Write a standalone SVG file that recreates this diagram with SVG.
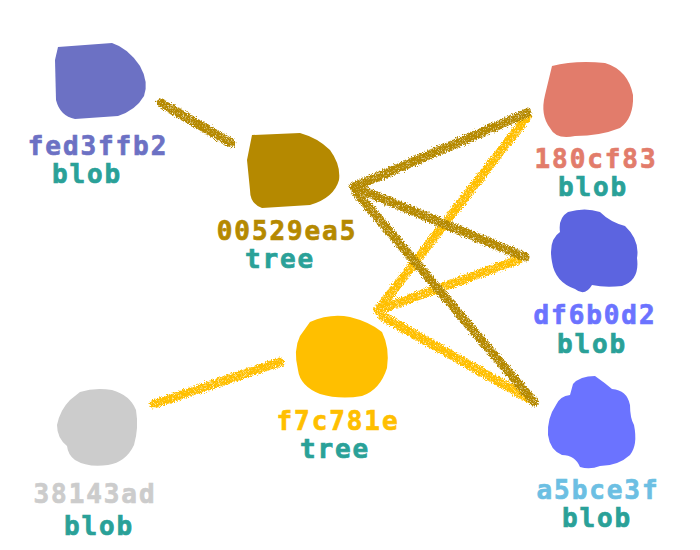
<svg xmlns="http://www.w3.org/2000/svg" width="700" height="550" viewBox="0 0 700 550">
<defs>
<filter id="crayon" x="-10%" y="-10%" width="120%" height="120%">
<feTurbulence type="fractalNoise" baseFrequency="0.9" numOctaves="2" seed="3" result="n"/>
<feDisplacementMap in="SourceGraphic" in2="n" scale="6" xChannelSelector="R" yChannelSelector="G" result="d"/>
<feTurbulence type="fractalNoise" baseFrequency="1.6" numOctaves="1" seed="7" result="g"/>
<feColorMatrix in="g" type="matrix" values="0 0 0 0 0  0 0 0 0 0  0 0 0 0 0  0 0 0 -3 2.6" result="m"/>
<feComposite in="d" in2="m" operator="in"/>
</filter>
<style>
text{font-family:"DejaVu Sans Mono","Liberation Mono",monospace;font-weight:700;font-size:26px;letter-spacing:1.9px;text-anchor:middle;stroke-width:0.7}
.kind{fill:#2aa198;stroke:#2aa198}
.e{fill:none;stroke-width:9;stroke-linecap:round;stroke-linejoin:round}
.g{stroke:#b58900}
.y{stroke:#ffbf00}
</style>
</defs>
<rect width="700" height="550" fill="#ffffff"/>
<g id="connectors" filter="url(#crayon)">
<line class="e g" x1="161" y1="103" x2="231" y2="143"/>
<polyline class="e y" points="527,117 378,310 518,260"/>
<polyline class="e y" points="382,316 528,398"/>
<line class="e y" x1="154" y1="404" x2="280" y2="362"/>
<polyline class="e g" points="527,113 354,187 525,257"/>
<line class="e g" x1="356" y1="192" x2="534" y2="402"/>
</g>
<g id="fed3ffb2">
<path d="M58,47 L112,43 Q128,48 140,66 Q149,82 144,96 Q136,110 118,116 L75,119 Q60,116 56,100 L55,60 Z" fill="#6c71c4"/>
<text x="98" y="155" fill="#6c71c4" stroke="#6c71c4">fed3ffb2</text>
<text class="kind" x="87" y="183">blob</text>
</g>
<g id="00529ea5">
<path d="M252,135 L300,133 Q318,138 330,150 Q341,165 339,180 Q334,198 310,205 L262,208 Q250,204 250,190 L247,160 Z" fill="#b58900"/>
<text x="287" y="240" fill="#b58900" stroke="#b58900">00529ea5</text>
<text class="kind" x="280" y="268">tree</text>
</g>
<g id="180cf83">
<path d="M552,66 Q575,60 605,63 Q628,70 633,95 Q634,118 620,128 Q600,136 575,136 Q556,140 550,128 Q540,115 545,95 Z" fill="#e27c6b"/>
<text x="596" y="168" fill="#e27c6b" stroke="#e27c6b">180cf83</text>
<text class="kind" x="593" y="196">blob</text>
</g>
<g id="df6b0d2">
<path d="M568,212 Q585,207 600,212 Q610,222 625,226 Q640,240 637,258 Q640,280 622,286 Q605,288 592,285 Q585,297 575,289 Q555,282 552,262 Q548,240 560,232 Q558,218 568,212 Z" fill="#5c64e0"/>
<text x="595" y="324" fill="#6b73ff" stroke="#6b73ff">df6b0d2</text>
<text class="kind" x="592" y="353">blob</text>
</g>
<g id="a5bce3f">
<path d="M573,384 Q580,376 595,376 Q605,383 612,389 Q627,390 630,405 Q630,418 634,425 Q638,445 630,455 Q618,466 600,466 Q590,470 580,467 Q575,455 562,455 Q550,450 548,435 Q547,418 556,405 Q560,396 570,395 Z" fill="#6b73ff"/>
<text x="598" y="499" fill="#6cbfe3" stroke="#6cbfe3">a5bce3f</text>
<text class="kind" x="597" y="527">blob</text>
</g>
<g id="f7c781e">
<path d="M310,322 Q330,313 350,317 Q370,322 382,332 Q390,348 387,368 Q380,390 362,396 Q340,400 320,394 Q300,386 298,370 Q293,350 300,336 Z" fill="#ffbf00"/>
<text x="338" y="430" fill="#ffbf00" stroke="#ffbf00">f7c781e</text>
<text class="kind" x="335" y="458">tree</text>
</g>
<g id="38143ad">
<path d="M80,392 Q95,387 112,390 Q130,395 136,410 Q139,428 134,445 Q126,462 108,465 Q88,468 75,460 Q68,455 67,446 Q57,438 57,425 Q60,410 70,400 Z" fill="#cccccc"/>
<text x="95" y="503" fill="#cccccc" stroke="#cccccc">38143ad</text>
<text class="kind" x="99" y="535">blob</text>
</g>
</svg>
